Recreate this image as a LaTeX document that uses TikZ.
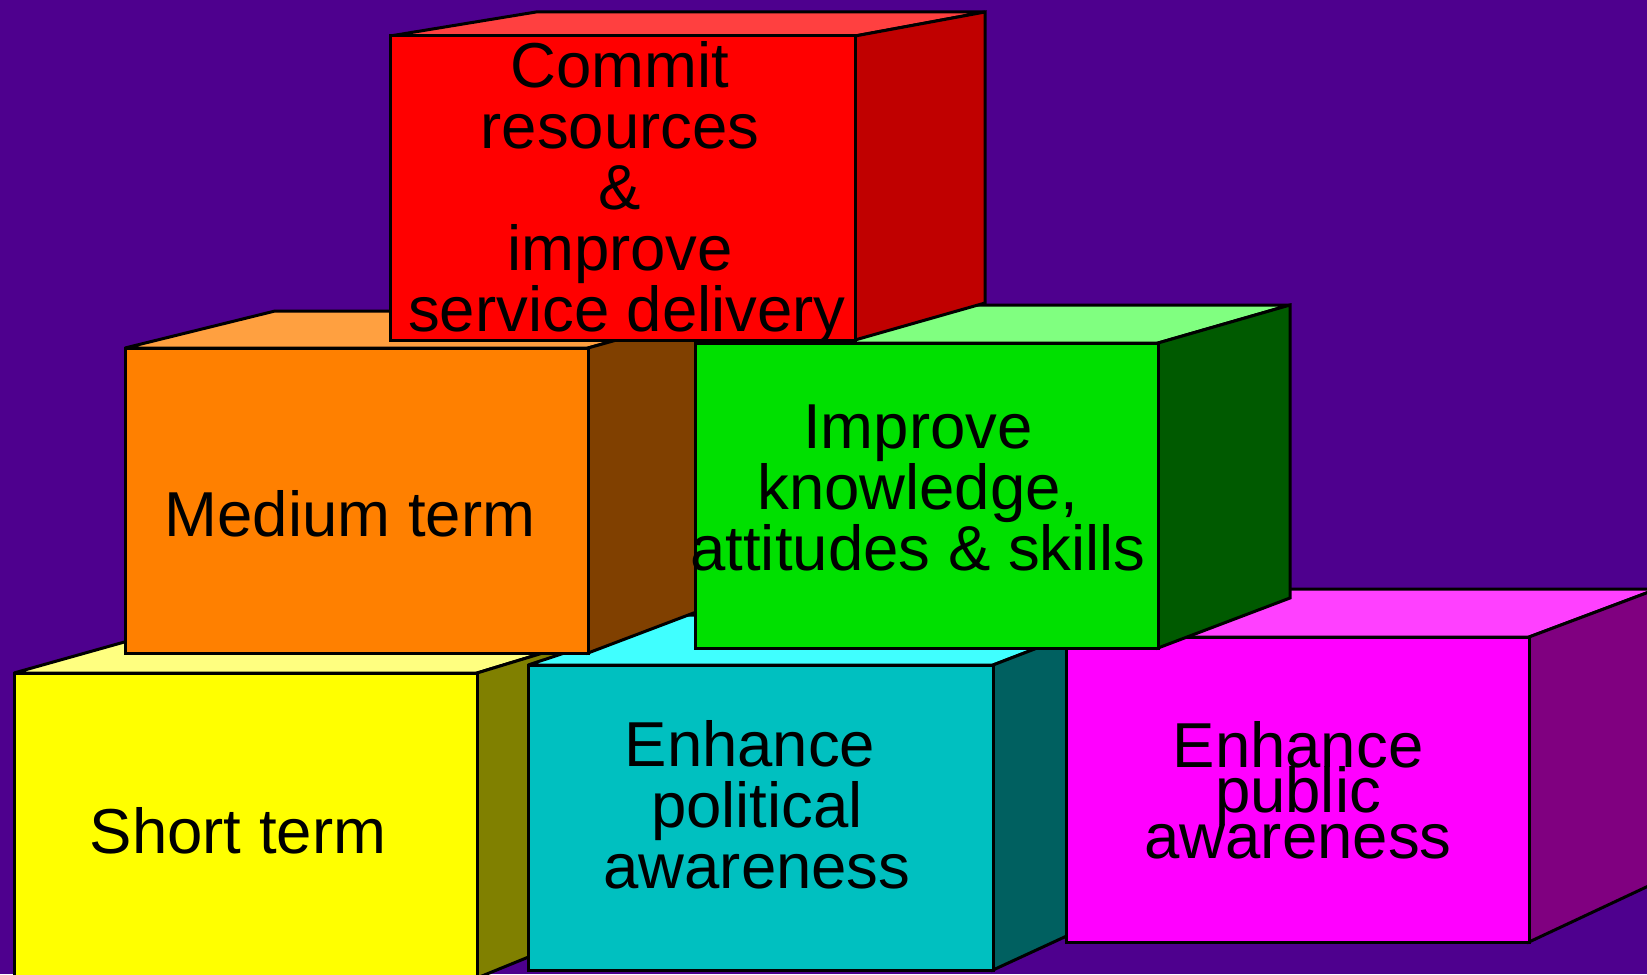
\documentclass[tikz,border=0pt]{standalone}
\usepackage{fontspec}
\setmainfont{Liberation Sans}
\definecolor{bg}{RGB}{78,0,142}
\definecolor{yelF}{HTML}{FFFF00}\definecolor{yelT}{HTML}{FFFF80}\definecolor{yelS}{HTML}{808000}
\definecolor{cyaF}{HTML}{00C0C0}\definecolor{cyaT}{HTML}{40FFFF}\definecolor{cyaS}{HTML}{006060}
\definecolor{magF}{HTML}{FF00FF}\definecolor{magT}{HTML}{FF40FF}\definecolor{magS}{HTML}{800080}
\definecolor{oraF}{HTML}{FF8000}\definecolor{oraT}{HTML}{FFA040}\definecolor{oraS}{HTML}{804000}
\definecolor{greF}{HTML}{00E000}\definecolor{greT}{HTML}{80FF80}\definecolor{greS}{HTML}{005A00}
\definecolor{redF}{HTML}{FF0000}\definecolor{redT}{HTML}{FF4040}\definecolor{redS}{HTML}{C00000}
\newcommand\boxfont{\fontsize{31.75}{30.5}\selectfont\lineskiplimit=-100pt\relax}
\newcommand\tightboxfont{\fontsize{31.75}{22.75}\selectfont\lineskiplimit=-100pt\relax}
% x1 y1 x2 y2 (front), bx1 by1 bx2 by2 (back), colour prefix
\newcommand\mycube[9]{%
  \filldraw[facestyle, fill=#9T] (#1,#2) -- (#5,#6) -- (#7,#6) -- (#3,#2) -- cycle;
  \filldraw[facestyle, fill=#9S] (#3,#2) -- (#7,#6) -- (#7,#8) -- (#3,#4) -- cycle;
  \filldraw[facestyle, fill=#9F] (#1,#2) rectangle (#3,#4);
}
\tikzset{
  facestyle/.style={draw=black, line width=1.5pt, line join=miter, miter limit=4},
  boxtext/.style={text=black, inner sep=0pt, align=center, font=\boxfont},
  tightboxtext/.style={text=black, inner sep=0pt, align=center, font=\tightboxfont}
}
\begin{document}
\begin{tikzpicture}[x=0.5pt, y=-0.5pt]
\fill[bg] (0,0) rectangle (1647,974);
\useasboundingbox (0,0) rectangle (1647,974);
\clip (0,0) rectangle (1647,974);
% yellow
\mycube{14}{673}{477}{978}{160}{632}{612}{923}{yel}
\node[boxtext, anchor=base] (short) at (238,853) {Short term};
% cyan
\mycube{528}{665}{993}{970}{680}{615}{1123}{910}{cya}
\node[boxtext] (political) at (757,805) {Enhance\hspace*{7pt}\\political\\awareness};
% magenta
\mycube{1066}{637}{1529}{942}{1215}{589}{1657}{882}{mag}
\node[tightboxtext] (public) at (1298,790) {Enhance\\public\\awareness};
% orange
\mycube{125}{348}{588}{653}{275}{311}{720}{603}{ora}
\node[boxtext, anchor=base] (medium) at (350,536) {Medium term};
% green
\mycube{695}{343}{1158}{648}{840}{305}{1290}{598}{gre}
\node[boxtext] (knowledge) at (918,488) {Improve\\knowledge,\\attitudes \& skills};
% red
\mycube{390}{36}{855}{340}{536}{12}{985}{303}{red}
\node[boxtext] (commit) at (620,193) {Commit\\resources\\\&\\improve\\\hspace*{7pt}service delivery};
\end{tikzpicture}
\end{document}
